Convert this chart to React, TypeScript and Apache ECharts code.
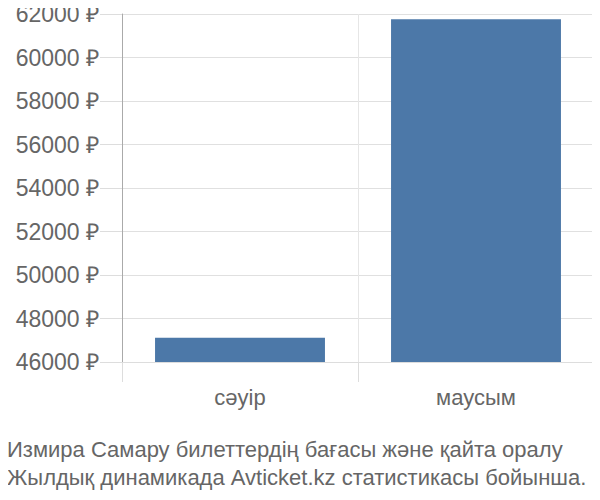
import React, { useEffect, useRef } from 'react'
import * as echarts from 'echarts'

const months = ['сәуір', 'маусым']
const prices = [47120, 61760]
const captionLines = [
    'Измира Самару билеттердің бағасы және қайта оралу',
    'Жылдық динамикада Avticket.kz статистикасы бойынша.',
]

const FONT = '"Liberation Sans", Arial, sans-serif'

const App: React.FC = () => {
    const chartRef = useRef<HTMLDivElement | null>(null)

    useEffect(() => {
        if (!chartRef.current) return
        const chart = echarts.init(chartRef.current, undefined, { renderer: 'svg' })

        chart.setOption({
            animation: false,
            textStyle: { fontFamily: FONT },
            title: {
                text: captionLines.join('\n'),
                left: 2,
                top: 430,
                textStyle: {
                    fontFamily: FONT,
                    fontSize: 22,
                    fontWeight: 'normal',
                    color: '#666',
                    lineHeight: 28,
                },
            },
            grid: { left: 122, right: 6, top: 14, bottom: 138 },
            xAxis: {
                type: 'category',
                data: months,
                axisLine: { show: true, lineStyle: { color: '#ddd' } },
                axisTick: { show: true, length: 20, lineStyle: { color: '#ddd' } },
                splitLine: { show: true, lineStyle: { color: '#e6e6e6' } },
                axisLabel: { color: '#666', fontSize: 22, margin: 24, fontFamily: FONT },
            },
            yAxis: {
                type: 'value',
                min: 46000,
                max: 62000,
                interval: 2000,
                axisLine: { show: true, lineStyle: { color: '#aaa' } },
                axisTick: { show: true, length: 22, lineStyle: { color: '#ddd' } },
                splitLine: { show: true, lineStyle: { color: '#e0e0e0' } },
                axisLabel: {
                    color: '#666',
                    fontSize: 23,
                    margin: 23,
                    fontFamily: FONT,
                    formatter: (v: number) => `${v} ₽`,
                },
            },
            series: [
                {
                    type: 'bar',
                    data: prices,
                    barCategoryGap: '28%',
                    itemStyle: { color: '#4c78a8' },
                },
            ],
        })

        return () => {
            chart.dispose()
        }
    }, [])

    return <div ref={chartRef} style={{ width: 600, height: 500, margin: -8 }} />
}

export default App
